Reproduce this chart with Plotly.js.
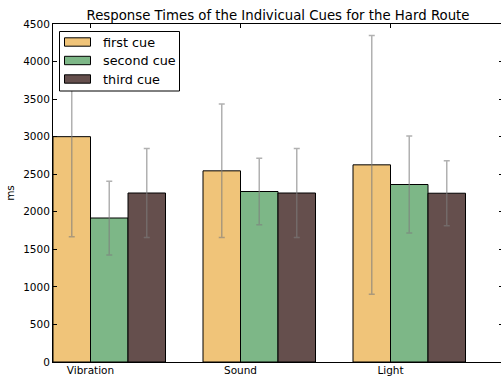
<!DOCTYPE html>
<html>
<head>
<meta charset="utf-8">
<script src="https://cdn.plot.ly/plotly-3.0.1.min.js"></script>
<style>
  html, body { margin: 0; padding: 0; overflow: hidden; background: #fff; }
  #chart { width: 503px; height: 376px; }
</style>
</head>
<body>
<div id="chart"></div>
<script>
// Mean response times (ms) per cue type, with their standard deviations
const cues = ["Vibration", "Sound", "Light"];
const seriesNames = ["first cue", "second cue", "third cue"];
const firstCue = [3000, 2545, 2625];
const firstErr = [1334, 889, 1723];
const secondCue = [1917, 2270, 2363];
const secondErr = [491, 444, 645];
const thirdCue = [2250, 2250, 2247];
const thirdErr = [592, 593, 433];
const colors = ["#f0c479", "#7db787", "#654f4d"];

const barWidth = 0.25;
const idx = cues.map((_, i) => i);
const values = [firstCue, secondCue, thirdCue];
const errors = [firstErr, secondErr, thirdErr];

const traces = values.map((vals, k) => ({
  type: "bar",
  name: seriesNames[k],
  x: idx,
  y: vals,
  width: barWidth,
  offset: k * barWidth,
  marker: { color: colors[k], line: { color: "#000", width: 1 } },
  error_y: {
    type: "data",
    array: errors[k],
    visible: true,
    color: "rgba(125,125,125,0.6)",
    thickness: 1.5,
    width: 3
  }
}));

const font = { family: "DejaVu Sans, sans-serif", color: "#000" };

// Plot area in pixels, used to place the boxed legend in paper coordinates
const M = { l: 53, r: 0, t: 24, b: 14 };
const W = 503, H = 376;
const plotW = W - M.l - M.r, plotH = H - M.t - M.b;
const px = x => (x - M.l) / plotW;
const py = y => (H - M.b - y) / plotH;

const shapes = [{
  type: "rect", xref: "paper", yref: "paper",
  x0: px(59.5), x1: px(179.5), y0: py(91), y1: py(31.5),
  line: { color: "#000", width: 1 }, fillcolor: "#fff", layer: "above"
}];
const annotations = [];
seriesNames.forEach((name, k) => {
  const cy = 42 + k * 18.5;
  shapes.push({
    type: "rect", xref: "paper", yref: "paper",
    x0: px(64.5), x1: px(90.5), y0: py(cy + 4.2), y1: py(cy - 4.2),
    line: { color: "#000", width: 1 }, fillcolor: colors[k], layer: "above"
  });
  annotations.push({
    text: name, xref: "paper", yref: "paper",
    x: px(100.5), y: py(cy), xanchor: "left", yanchor: "middle",
    showarrow: false, font: Object.assign({ size: 12.8 }, font)
  });
});

const layout = {
  width: W,
  height: H,
  margin: M,
  paper_bgcolor: "#fff",
  plot_bgcolor: "#fff",
  barmode: "overlay",
  showlegend: false,
  font: Object.assign({ size: 10.5 }, font),
  title: {
    text: "Response Times of the Indivicual Cues for the Hard Route",
    font: Object.assign({ size: 13.3 }, font),
    x: 0.5, xref: "paper", xanchor: "center",
    y: 1, yref: "paper", yanchor: "bottom",
    pad: { b: 4 }
  },
  xaxis: {
    range: [0, 3],
    tickvals: idx.map(i => i + barWidth),
    ticktext: cues,
    ticks: "inside",
    ticklen: 4,
    tickcolor: "#000",
    showline: true,
    linecolor: "#000",
    linewidth: 1,
    mirror: "ticks",
    showgrid: false,
    zeroline: false,
    ticklabelstandoff: -2,
    tickfont: Object.assign({ size: 10.5 }, font)
  },
  yaxis: {
    range: [0, 4500],
    dtick: 500,
    tick0: 0,
    ticks: "inside",
    ticklen: 4,
    tickcolor: "#000",
    showline: true,
    linecolor: "#000",
    linewidth: 1,
    mirror: "ticks",
    showgrid: false,
    zeroline: false,
    tickfont: Object.assign({ size: 10.5 }, font),
    title: { text: "ms", font: Object.assign({ size: 10.5 }, font), standoff: 6 }
  },
  shapes: shapes,
  annotations: annotations
};

Plotly.newPlot("chart", traces, layout, { staticPlot: true, displayModeBar: false });
</script>
</body>
</html>
